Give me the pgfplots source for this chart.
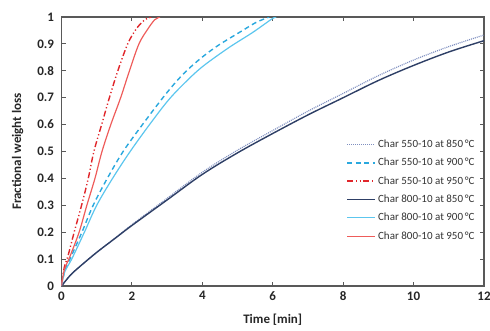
\documentclass[border=0pt]{standalone}
\usepackage{pgfplots}
\pgfplotsset{compat=1.18}
\usepackage{fontspec}
\setmainfont{Carlito}
\definecolor{axgray}{HTML}{595959}
\definecolor{dotblue}{HTML}{7F8FC0}
\definecolor{cyandash}{HTML}{2AA8DE}
\definecolor{cyansolid}{HTML}{5CC6EE}
\definecolor{reddash}{HTML}{E0262B}
\definecolor{redsolid}{HTML}{EE5C5A}
\definecolor{navy}{HTML}{2E3F66}
\begin{document}
\begin{tikzpicture}
\begin{axis}[
  scale only axis,
  width=422.5pt, height=269pt,
  xmin=0, xmax=12, ymin=0, ymax=1,
  xtick={0,2,...,12}, ytick={0,0.1,...,1},
  yticklabels={0,0.1,0.2,0.3,0.4,0.5,0.6,0.7,0.8,0.9,1},
  tick align=inside,
  major tick length=4pt,
  axis line style={axgray, line width=1.4pt},
  every tick/.style={axgray, line width=1pt},
  tick label style={font=\fontsize{13}{15}\selectfont\bfseries, text=black!85},
  /pgf/number format/assume math mode=true,
  xticklabel style={yshift=-2pt},
  yticklabel style={xshift=-4pt},
  xlabel={Time [min]},
  ylabel={Fractional weight loss},
  label style={font=\fontsize{13}{15}\selectfont\bfseries, text=black!85},
  xlabel style={at={(axis description cs:0.5,0)}, anchor=center, yshift=-34pt},
  ylabel style={at={(axis description cs:-0.104,0.5)}, anchor=center},
  legend style={at={(rel axis cs:0.99,0.555)}, anchor=north east, draw=none, fill=none,
    font=\fontsize{11}{13}\selectfont, text=black!80, row sep=7.2pt,
    nodes={inner xsep=2pt, inner ysep=1pt}},
  legend cell align=left,
  legend image code/.code={\draw[#1] (0pt,0pt) -- (28pt,0pt);},
  clip=true,
  every axis plot/.append style={smooth, tension=0.55},
]
% Char 550-10 at 850
\addplot[dotblue, line width=1.2pt, dash pattern=on 1pt off 1pt] coordinates {
(0,0)(0.25,0.04)(0.5,0.07)(1,0.125)(1.5,0.176)(2,0.228)(3,0.326)(4,0.423)(5,0.505)(6,0.578)(7,0.65)(8,0.716)(9,0.782)(10,0.84)(11,0.89)(12,0.933)};
\addlegendentry{Char 550-10 at 850\,°C}
% Char 550-10 at 900
\addplot[cyandash, line width=1.4pt, dash pattern=on 5pt off 3.5pt] coordinates {
(0,0)(0.1,0.06)(0.24,0.1)(0.58,0.2)(0.9,0.3)(1.3,0.4)(1.75,0.5)(2.3,0.6)(2.94,0.71)(3.4,0.78)(3.85,0.835)(4.4,0.89)(5.12,0.948)(5.5,0.978)(5.8,0.995)(5.9,1.0)};
\addlegendentry{Char 550-10 at 900\,°C}
% Char 550-10 at 950
\addplot[reddash, line width=1.4pt, dash pattern=on 6pt off 2.5pt on 1.2pt off 2.5pt on 1.2pt off 2.5pt] coordinates {
(0,0)(0.08,0.07)(0.18,0.11)(0.36,0.2)(0.57,0.3)(0.76,0.4)(0.92,0.5)(1.14,0.6)(1.36,0.7)(1.6,0.8)(1.88,0.9)(2.12,0.955)(2.35,0.988)(2.55,1.0)};
\addlegendentry{Char 550-10 at 950\,°C}
% Char 800-10 at 850
\addplot[navy, line width=1.4pt] coordinates {
(0,0)(0.25,0.04)(0.5,0.07)(1,0.125)(1.5,0.175)(2,0.225)(3,0.32)(4,0.415)(5,0.495)(6,0.567)(7,0.636)(8,0.70)(9,0.764)(10,0.82)(11,0.87)(12,0.912)};
\addlegendentry{Char 800-10 at 850\,°C}
% Char 800-10 at 900
\addplot[cyansolid, line width=1.2pt] coordinates {
(0,0)(0.1,0.055)(0.29,0.1)(0.65,0.2)(1.0,0.3)(1.45,0.4)(1.95,0.5)(2.5,0.6)(3.03,0.69)(3.5,0.755)(4.0,0.815)(4.74,0.885)(5.4,0.94)(5.75,0.972)(6.0,0.995)(6.1,1.0)};
\addlegendentry{Char 800-10 at 900\,°C}
% Char 800-10 at 950
\addplot[redsolid, line width=1.2pt] coordinates {
(0,0)(0.08,0.06)(0.24,0.11)(0.5,0.2)(0.72,0.3)(0.95,0.4)(1.15,0.5)(1.4,0.6)(1.68,0.7)(1.93,0.8)(2.2,0.9)(2.45,0.955)(2.65,0.99)(2.8,1.0)};
\addlegendentry{Char 800-10 at 950\,°C}
\end{axis}
\pgfresetboundingbox
\path (-61.5pt,-44pt) rectangle (428.5pt,286pt);
\end{tikzpicture}
\end{document}
